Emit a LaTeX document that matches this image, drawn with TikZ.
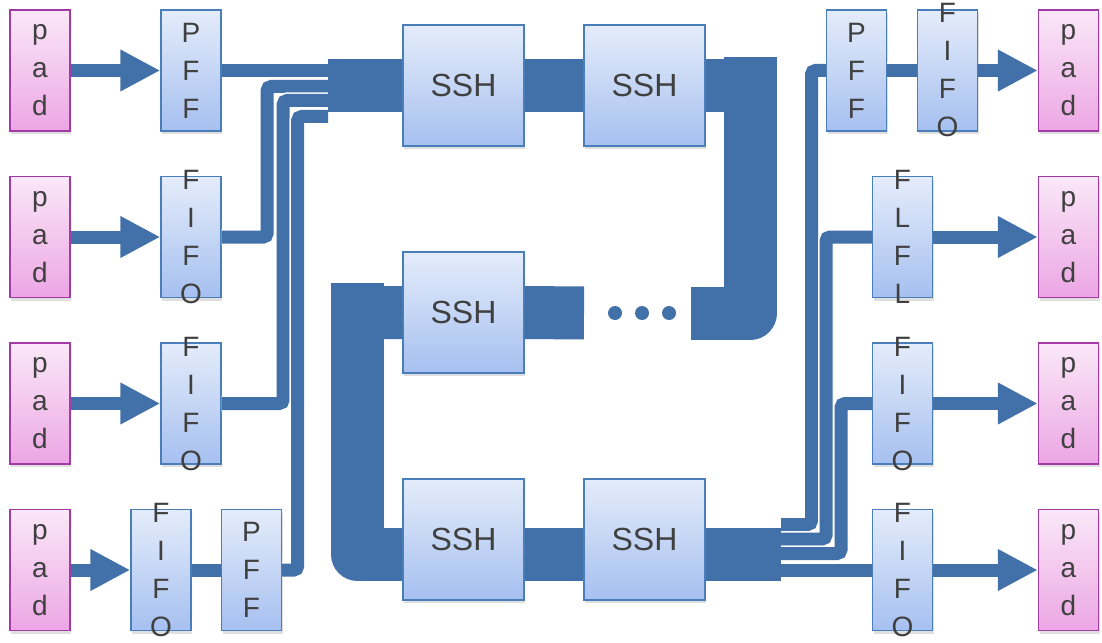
\documentclass[tikz,border=0pt]{standalone}
\usepackage{fontspec}
\setmainfont{Liberation Sans}
\usetikzlibrary{arrows.meta}
\usetikzlibrary{shadows}

\definecolor{busblue}{RGB}{66,112,168}
\definecolor{blkline}{RGB}{74,126,187}
\definecolor{blktop}{RGB}{228,236,250}
\definecolor{blkbot}{RGB}{166,192,240}
\definecolor{padline}{RGB}{163,58,166}
\definecolor{padtop}{RGB}{250,232,248}
\definecolor{padbot}{RGB}{236,166,228}
\definecolor{txt}{RGB}{64,64,64}

\begin{document}
\begin{tikzpicture}
	[x=0.5pt,y=-0.5pt,
	chip/.style={draw, line width=0.7pt, inner sep=0pt, minimum width=30pt, minimum height=60.5pt,
		drop shadow={opacity=0.25,shadow xshift=0.6pt,shadow yshift=-1.6pt}},
	blk/.style={chip, draw=blkline, top color=blktop, bottom color=blkbot},
	padbox/.style={chip, draw=padline, top color=padtop, bottom color=padbot},
	ssh/.style={blk, minimum width=60.5pt, text=txt, font=\fontsize{16}{19}\selectfont},
	lbl/.style={align=center, text=txt, font=\fontsize{14}{19}\selectfont, inner sep=0pt},
	wire/.style={draw=busblue, line width=6.5pt, rounded corners=2pt, preaction={draw=white, line width=8pt}},
	bar/.style={draw=busblue, line width=26.5pt},
	feed/.style={draw=busblue, line width=6.5pt, -{Triangle[length=20pt,width=19.5pt]}}]
	\useasboundingbox (0,0) rectangle (1102,642);

	% pads on both sides
	\foreach \y/\n in {70.5/1,237/2,403.5/3,570/4}{
		\node[padbox] (lp\n) at (40,\y) {};
		\node[lbl] at (lp\n) {p\\a\\d};
		\node[padbox] (rp\n) at (1068.5,\y) {};
		\node[lbl] at (rp\n) {p\\a\\d};
	}

	% input side
	\node[blk] (pffA) at (191,70.5) {};
	\node[lbl] at (pffA) {P\\F\\F};
	\node[blk] (fifoB) at (191,237) {};
	\node[lbl] at (fifoB) {F\\I\\F\\O};
	\node[blk] (fifoC) at (191,403.5) {};
	\node[lbl] at (fifoC) {F\\I\\F\\O};
	\node[blk] (fifoD) at (161,570) {};
	\node[lbl] at (fifoD) {F\\I\\F\\O};
	\node[blk] (pffD) at (251.5,570) {};
	\node[lbl] at (pffD) {P\\F\\F};

	% output side
	\node[blk] (pffR) at (856.5,70.5) {};
	\node[lbl] at (pffR) {P\\F\\F};
	\node[blk] (fifoR) at (947.5,70.5) {};
	\node[lbl] at (fifoR) {F\\I\\F\\O};
	\node[blk] (flflR) at (902.5,237) {};
	\node[lbl] at (flflR) {F\\L\\F\\L};
	\node[blk] (fifoS) at (902.5,403.5) {};
	\node[lbl] at (fifoS) {F\\I\\F\\O};
	\node[blk] (fifoT) at (902.5,570) {};
	\node[lbl] at (fifoT) {F\\I\\F\\O};

	% SSH chain
	\node[ssh] (s1) at (463.5,85.5) {SSH};
	\node[ssh] (s2) at (644.5,85.5) {SSH};
	\node[ssh] (s3) at (463.5,312.5) {SSH};
	\node[ssh] (s4) at (463.5,539.5) {SSH};
	\node[ssh] (s5) at (644.5,539.5) {SSH};

	\coordinate (inA) at (328,70.5);
	\coordinate (inB) at (328,86.5);
	\coordinate (inC) at (328,100.5);
	\coordinate (inD) at (328,116.5);
	\coordinate (outA) at (781,524.5);
	\coordinate (outB) at (781,539);
	\coordinate (outC) at (781,553.5);
	\coordinate (outD) at (781,570);
	\coordinate (busL) at (328,86);
	\coordinate (busR) at (781,554.5);
	\coordinate (cBL) at (357.5,554.5);

	% pads to first stage
	\foreach \n/\b in {1/pffA,2/fifoB,3/fifoC,4/fifoD}
		\draw[feed] (lp\n.east) -- (\b.west);
	\draw[feed] (fifoR.east) -- (rp1.west);
	\draw[feed] (flflR.east) -- (rp2.west);
	\draw[feed] (fifoS.east) -- (rp3.west);
	\draw[feed] (fifoT.east) -- (rp4.west);
	\draw[wire] (fifoD.east) -- (pffD.west);
	\draw[wire] (pffR.east) -- (fifoR.west);

	% fan in
	\draw[wire] (pffA.east) -- (inA);
	\draw[wire] (fifoB.east) -- ++(45.5,0) |- (inB);
	\draw[wire] (fifoC.east) -- ++(61.5,0) |- (inC);
	\draw[wire] (pffD.east) -- ++(15.5,0) |- (inD);

	% fan out
	\draw[wire] (outA) -- ++(30.5,0) |- (pffR.west);
	\draw[wire] (outB) -- ++(45,0) |- (flflR.west);
	\draw[wire] (outC) -- ++(60,0) |- (fifoS.west);
	\draw[wire] (outD) -- (fifoT.west);

	% wide bus
	\draw[bar] (busL) -- (s1.west |- busL);
	\draw[bar] (s1.east |- busL) -- (s2.west |- busL);
	\draw[bar] (s2.east |- busL) -- (724,86);
	\draw[bar, line join=round] (750.5,57) -- (750.5,313) -- (691,313);
	\draw[bar] (357.5,313) -- (s3.west);
	\draw[bar] (s3.east) -- (584,313);
	\draw[bar, line join=round] (357.5,283) -- (cBL) -- (cBL -| s4.west);
	\draw[bar] (s4.east |- cBL) -- (s5.west |- cBL);
	\draw[bar] (s5.east |- cBL) -- (busR);
	\foreach \x in {615,642,669}
		\fill[busblue] (\x,313) circle (3.5pt);
\end{tikzpicture}
\end{document}
